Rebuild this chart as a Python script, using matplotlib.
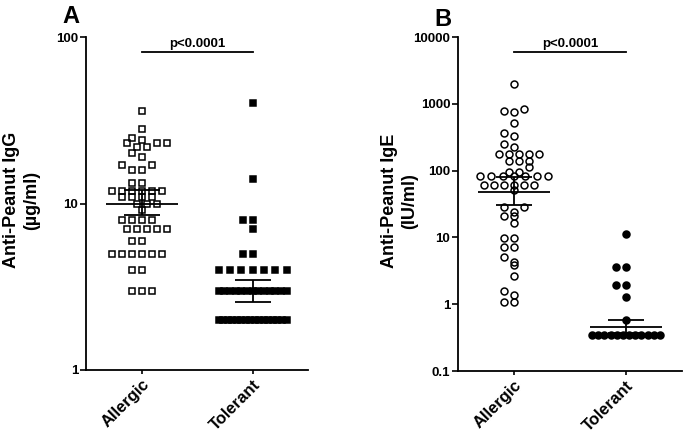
import numpy as np
import matplotlib
matplotlib.use('Agg')
import matplotlib.pyplot as plt
from matplotlib.ticker import FixedLocator, FixedFormatter, NullLocator

plt.rcParams['font.family'] = ['Liberation Sans', 'DejaVu Sans']
plt.rcParams['font.weight'] = 'bold'

# Dados
grupos = ['Allergic', 'Tolerant']

igg_alergico = [36, 28, 24.8, 24.1, 23.1, 23.1, 23.1, 21.8, 21.8, 20.2, 18.9,
                17.0, 17.0, 16.0, 16.0, 13.2, 13.2,
                11.9, 11.9, 11.9, 11.9, 11.9, 11.9, 11.0, 11.0, 11.0, 11.0,
                10.0, 10.0, 10.0, 9.1, 8.0, 8.0, 8.0, 8.0,
                7.0, 7.0, 7.0, 7.0, 7.0, 5.95, 5.95,
                5.0, 5.0, 5.0, 5.0, 5.0, 5.0, 4.0, 4.0, 3.0, 3.0, 3.0]
igg_tolerante = [40, 14, 8, 8, 7, 5, 5] + [4] * 7 + [3] * 13 + [2] * 16

ige_alergico = [1977, 828, 789, 762, 511, 369, 330, 250, 223,
                177, 177, 177, 177, 177, 141, 141, 141, 112, 96, 96,
                83, 83, 83, 83, 83, 83, 83, 61, 61, 61, 61, 61, 61, 51,
                28.8, 28.8, 24.3, 21, 21, 16.6, 9.9, 9.9, 7.1, 7.1,
                5.1, 4.3, 3.8, 2.6, 1.6, 1.37, 1.09, 1.09]
ige_tolerante = [11.2, 3.64, 3.64, 1.94, 1.94, 1.27, 0.59] + [0.35] * 12

# linha central e barras (centro, inferior, superior)
igg_linhas = [(10.0, 8.5, 12.0), (3.0, 2.55, 3.45)]
ige_linhas = [(48, 30.5, 80), (0.46, 0.37, 0.58)]


def posicoes_dotplot(ax, xc, valores, passo=10, altura=5, meia_larg=34):
    # agrupa os pontos em faixas e espalha na horizontal (em pixels)
    vals = np.array(valores, float)
    pts = ax.transData.transform(np.column_stack([np.full(len(vals), xc), vals]))
    x0_px = pts[0, 0]
    y_px = pts[:, 1]
    off = np.zeros(len(vals))

    ordem = np.argsort(-vals, kind='stable')
    faixas = []
    for i in ordem:
        if faixas and abs(y_px[faixas[-1][0]] - y_px[i]) < altura:
            faixas[-1].append(i)
        else:
            faixas.append([i])

    y_anterior = None
    for faixa in faixas:
        n = len(faixa)
        if n * passo > 2 * meia_larg:
            offs = np.linspace(-meia_larg, meia_larg, n)
        else:
            offs = np.array(([0] + [s * k * passo for k in range(1, n) for s in (-1, 1)])[:n], float)
            # faixas muito próximas ficam deslocadas meio passo
            if y_anterior is not None and abs(y_anterior - y_px[faixa[0]]) < 12 and n % 2 == 1 and n > 1:
                offs = offs + passo / 2
        # menores valores no centro, maiores nas pontas
        faixa = sorted(faixa, key=lambda j: vals[j])
        for i, o in zip(faixa, offs):
            off[i] = o
        y_anterior = y_px[faixa[0]]

    inv = ax.transData.inverted()
    return inv.transform(np.column_stack([x0_px + off, y_px]))[:, 0]


def px_para_x(ax, px):
    a = ax.transData.transform((0, 1))[0]
    b = ax.transData.transform((1, 1))[0]
    return px / (b - a)


def desenha_painel(ax, dados, linhas, marcadores, ylim, yticks, ylabels, ylabel, xlabel_pos):
    ax.set_yscale('log')
    ax.set_xlim(0, 4)
    ax.set_ylim(*ylim)

    for x, vals, (m, cheio) in zip([1, 3], dados, marcadores):
        xs = posicoes_dotplot(ax, x, vals)
        ax.plot(xs, vals, linestyle='none', marker=m,
                markersize=5.0 if m == 'o' else 4.8,
                markeredgewidth=1.1, markeredgecolor='black',
                markerfacecolor='black' if cheio else 'none', zorder=2, clip_on=False)

    larg = px_para_x(ax, 36)
    tampa = px_para_x(ax, 18)
    for x, (c, lo, hi) in zip([1, 3], linhas):
        ax.hlines(c, x - larg, x + larg, color='black', lw=1.3, zorder=3)
        ax.vlines(x, lo, hi, color='black', lw=1.3, zorder=3)
        ax.hlines([lo, hi], x - tampa, x + tampa, color='black', lw=1.3, zorder=3)

    # barra de significancia
    ax.plot([1, 3], [0.955, 0.955], color='black', lw=1.3,
            transform=ax.get_xaxis_transform(), clip_on=False)
    ax.text(2, 0.962, 'p<0.0001', ha='center', va='bottom', fontsize=9.5,
            fontweight='bold', transform=ax.get_xaxis_transform())

    ax.spines['top'].set_visible(False)
    ax.spines['right'].set_visible(False)
    ax.spines['left'].set_linewidth(1.3)
    ax.spines['bottom'].set_linewidth(1.3)

    ax.yaxis.set_major_locator(FixedLocator(yticks))
    ax.yaxis.set_major_formatter(FixedFormatter(ylabels))
    ax.yaxis.set_minor_locator(NullLocator())
    ax.tick_params(axis='y', length=4, width=1.2, labelsize=9.5, pad=1.5)
    ax.tick_params(axis='x', length=3, width=1.2, pad=2)
    ax.set_xticks([1, 3])
    ax.set_xticklabels(grupos, rotation=45, ha='right', rotation_mode='anchor',
                       fontsize=12, fontweight='bold')

    ax.set_ylabel(ylabel, fontsize=13, fontweight='bold', multialignment='center')
    ax.yaxis.set_label_coords(xlabel_pos, 0.51)


fig = plt.figure(figsize=(6.86, 4.38), dpi=100)
ax1 = fig.add_axes([86 / 686, 1 - 370 / 438, 222 / 686, 333 / 438])
ax2 = fig.add_axes([458 / 686, 1 - 371 / 438, 224 / 686, 334 / 438])

desenha_painel(ax1, [igg_alergico, igg_tolerante], igg_linhas,
               [('s', False), ('s', True)], (1, 100), [1, 10, 100],
               ['1', '10', '100'], 'Anti-Peanut IgG\n(µg/ml)', -0.207)

desenha_painel(ax2, [ige_alergico, ige_tolerante], ige_linhas,
               [('o', False), ('o', True)], (0.1, 10000),
               [0.1, 1, 10, 100, 1000, 10000],
               ['0.1', '1', '10', '100', '1000', '10000'],
               'Anti-Peanut IgE\n(IU/ml)', -0.179)

fig.text(71 / 686, 1 - 5 / 438, 'A', ha='center', va='top', fontsize=17, fontweight='bold')
fig.text(443 / 686, 1 - 8 / 438, 'B', ha='center', va='top', fontsize=17, fontweight='bold')

fig.savefig('out.png', dpi=100)
